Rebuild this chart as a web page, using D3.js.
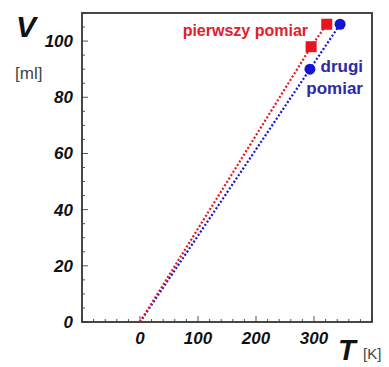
<!DOCTYPE html>
<html>
<head>
<meta charset="utf-8">
<script src="https://cdn.jsdelivr.net/npm/d3@7"></script>
<style>
  body { margin: 0; background: #fff; }
  svg { display: block; font-family: "Liberation Sans", Arial, sans-serif; }
</style>
</head>
<body>
<div id="chart"></div>
<script>
// dane z wykresu
const seriesNames = ['pierwszy pomiar', 'drugi pomiar'];
const firstT = [0, 295, 322];
const firstV = [0, 98, 106];
const secondT = [0, 293, 345];
const secondV = [0, 90, 106];
const xTicks = [0, 100, 200, 300];
const yTicks = [0, 20, 40, 60, 80, 100];

const width = 389, height = 367;
const margin = { top: 13, right: 17, bottom: 45, left: 82 };

const svg = d3.select('#chart').append('svg')
  .attr('width', width)
  .attr('height', height);

const x = d3.scaleLinear().domain([-100, 400]).range([margin.left, width - margin.right]);
const y = d3.scaleLinear().domain([0, 110]).range([height - margin.bottom, margin.top]);

// minor ticks (inside)
const xMinor = d3.range(-100, 401, 20);
const yMinor = d3.range(0, 111, 5);

svg.append('g').selectAll('line')
  .data(xMinor)
  .join('line')
  .attr('x1', d => x(d)).attr('x2', d => x(d))
  .attr('y1', y(0)).attr('y2', d => y(0) - (d % 100 === 0 ? 6 : 3))
  .attr('stroke', '#555').attr('stroke-width', 1);

svg.append('g').selectAll('line')
  .data(yMinor)
  .join('line')
  .attr('y1', d => y(d)).attr('y2', d => y(d))
  .attr('x1', x(-100)).attr('x2', d => x(-100) + (d % 20 === 0 ? 6 : 3))
  .attr('stroke', '#555').attr('stroke-width', 1);

// frame
svg.append('rect')
  .attr('x', x(-100)).attr('y', y(110))
  .attr('width', x(400) - x(-100))
  .attr('height', y(0) - y(110))
  .attr('fill', 'none')
  .attr('stroke', '#333')
  .attr('stroke-width', 1.8);

// tick labels
svg.append('g').selectAll('text')
  .data(yTicks)
  .join('text')
  .attr('x', x(-100) - 9)
  .attr('y', d => y(d) + 6)
  .attr('text-anchor', 'end')
  .attr('font-size', 17)
  .attr('font-weight', 'bold')
  .attr('font-style', 'italic')
  .attr('fill', '#111')
  .text(d => d);

svg.append('g').selectAll('text')
  .data(xTicks)
  .join('text')
  .attr('x', d => x(d))
  .attr('y', y(0) + 22)
  .attr('text-anchor', 'middle')
  .attr('font-size', 17)
  .attr('font-weight', 'bold')
  .attr('font-style', 'italic')
  .attr('fill', '#111')
  .text(d => d);

// axis titles
svg.append('text')
  .attr('x', 16).attr('y', 37)
  .attr('font-size', 30).attr('font-weight', 'bold').attr('font-style', 'italic')
  .attr('fill', '#111')
  .text('V');
svg.append('text')
  .attr('x', 15).attr('y', 79)
  .attr('font-size', 17).attr('fill', '#444')
  .text('[ml]');
svg.append('text')
  .attr('x', 338).attr('y', 360)
  .attr('font-size', 29).attr('font-weight', 'bold').attr('font-style', 'italic')
  .attr('fill', '#111')
  .text('T');
svg.append('text')
  .attr('x', 363).attr('y', 359)
  .attr('font-size', 15).attr('fill', '#444')
  .text('[K]');

const line = d3.line().x(d => x(d[0])).y(d => y(d[1]));
const red = '#e8141e', blue = '#1414d2';

const first = d3.zip(firstT, firstV);
const second = d3.zip(secondT, secondV);

svg.append('path')
  .datum(second)
  .attr('d', line)
  .attr('fill', 'none')
  .attr('stroke', blue)
  .attr('stroke-width', 2.2)
  .attr('stroke-dasharray', '2,2');

svg.append('path')
  .datum(first)
  .attr('d', line)
  .attr('fill', 'none')
  .attr('stroke', red)
  .attr('stroke-width', 2.2)
  .attr('stroke-dasharray', '2,2');

svg.append('g').selectAll('rect')
  .data(first.slice(1))
  .join('rect')
  .attr('x', d => x(d[0]) - 5.5)
  .attr('y', d => y(d[1]) - 5.5)
  .attr('width', 11).attr('height', 11)
  .attr('fill', red);

svg.append('g').selectAll('circle')
  .data(second.slice(1))
  .join('circle')
  .attr('cx', d => x(d[0]))
  .attr('cy', d => y(d[1]))
  .attr('r', 5.5)
  .attr('fill', blue);

// labels
svg.append('text')
  .attr('x', 308).attr('y', 36)
  .attr('text-anchor', 'end')
  .attr('font-size', 16).attr('font-weight', 'bold')
  .attr('fill', '#e0202a')
  .text(seriesNames[0]);

const parts = seriesNames[1].split(' ');
svg.append('text')
  .attr('x', 363).attr('y', 72)
  .attr('text-anchor', 'end')
  .attr('font-size', 17).attr('font-weight', 'bold')
  .attr('fill', '#2a2aa8')
  .text(parts[0]);
svg.append('text')
  .attr('x', 363).attr('y', 94)
  .attr('text-anchor', 'end')
  .attr('font-size', 17).attr('font-weight', 'bold')
  .attr('fill', '#2a2aa8')
  .text(parts[1]);
</script>
</body>
</html>
